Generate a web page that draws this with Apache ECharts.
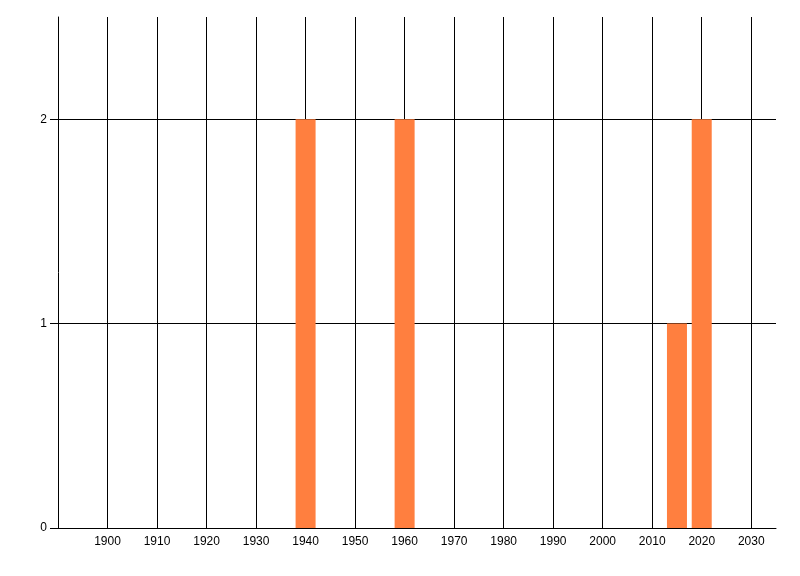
<!DOCTYPE html>
<html>
<head>
<meta charset="utf-8">
<style>html,body{margin:0;padding:0;background:#fff}#c{width:800px;height:576px}</style>
<script src="https://cdn.jsdelivr.net/npm/echarts@6/dist/echarts.min.js"></script>
</head>
<body>
<div id="c"></div>
<script>
var years = [1940, 1960, 2015, 2020];
var counts = [2, 2, 1, 2];
var yTicks = [0, 1, 2];

var chart = echarts.init(document.getElementById('c'), null, {renderer: 'canvas'});
var font = 'Liberation Sans';
chart.setOption({
  animation: false,
  backgroundColor: '#ffffff',
  grid: {left: 58, right: 24, top: 17, bottom: 48, containLabel: false},
  xAxis: {
    type: 'value', min: 1890, max: 2035, interval: 10,
    axisLine: {show: true, lineStyle: {color: '#000', width: 1}},
    axisTick: {show: false},
    axisLabel: {color: '#000', fontFamily: font, fontSize: 12, margin: 8,
      showMinLabel: false, showMaxLabel: false,
      formatter: function (v) { return String(v); }},
    splitLine: {show: true, showMinLine: false, showMaxLine: false, lineStyle: {color: '#000', width: 1}}
  },
  yAxis: {
    type: 'value', min: 0, max: 2.5, interval: 1,
    axisLine: {show: true, lineStyle: {color: '#000', width: 1}},
    axisTick: {show: true, length: 8, customValues: yTicks, lineStyle: {color: '#000', width: 1}},
    axisLabel: {color: '#000', fontFamily: font, fontSize: 12, margin: 11, customValues: yTicks},
    splitLine: {show: true, showMinLine: false, showMaxLine: true, lineStyle: {color: '#000', width: 1}}
  },
  series: [{
    type: 'bar',
    barWidth: 20,
    itemStyle: {color: '#FF7F3F'},
    data: years.map(function (y, i) { return [y, counts[i]]; }),
    z: 3
  }]
});
</script>
</body>
</html>
